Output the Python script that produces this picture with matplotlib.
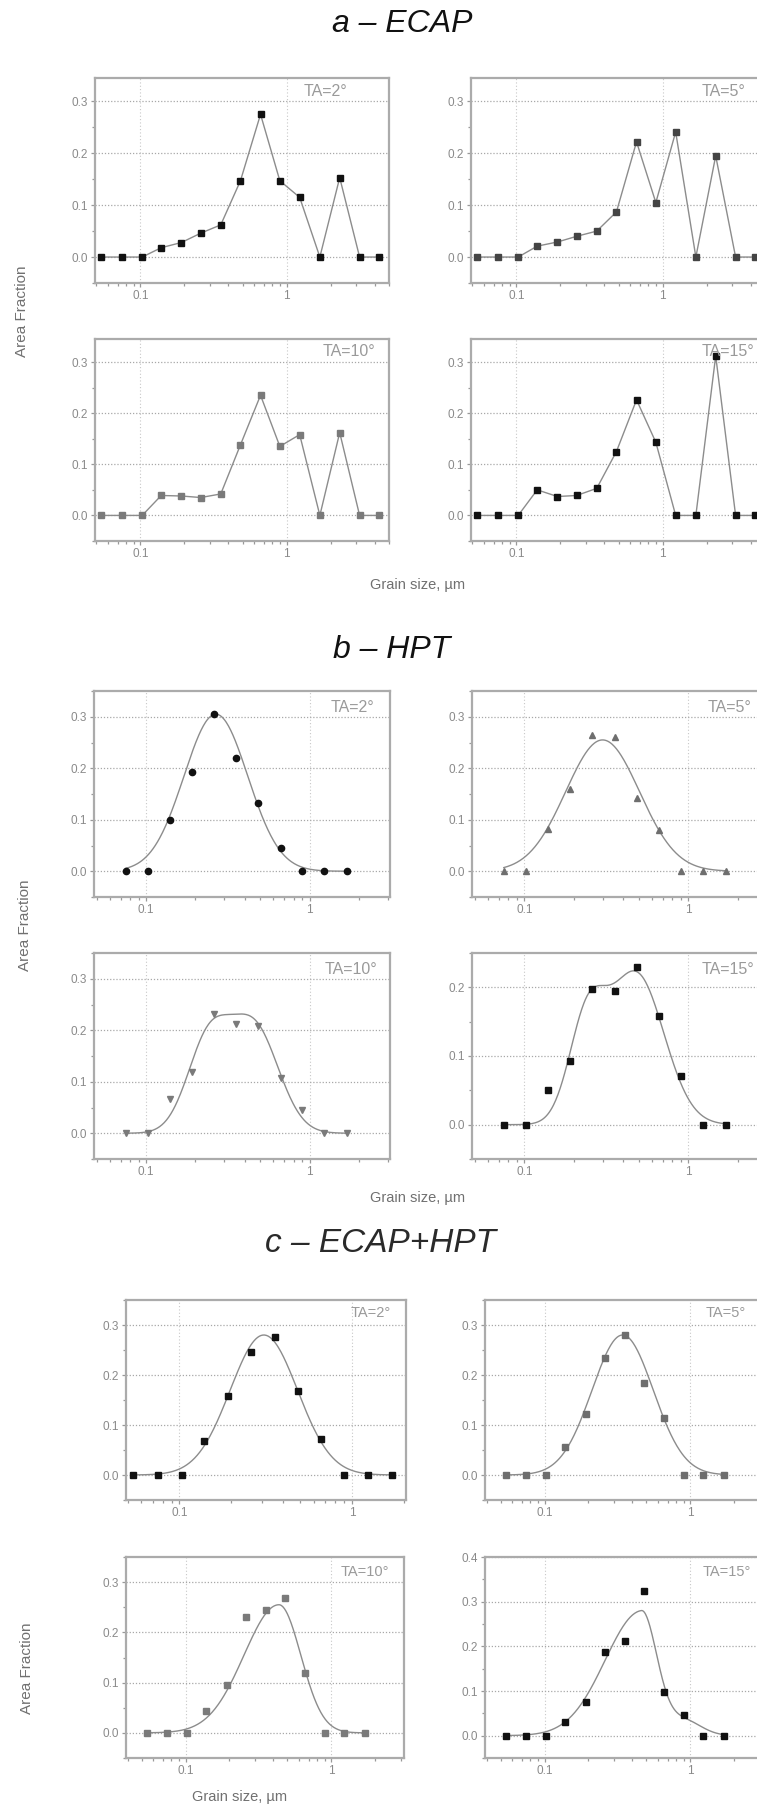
import numpy as np
import matplotlib
matplotlib.use("Agg")
import matplotlib.pyplot as plt
from matplotlib.ticker import FixedLocator, NullFormatter, LogLocator, MultipleLocator, FormatStrFormatter

plt.rcParams['font.family'] = ['Liberation Sans', 'DejaVu Sans']

W, H = 757, 1809

# grain size classes (um)
x_a = [0.054, 0.075, 0.103, 0.139, 0.191, 0.259, 0.355, 0.484, 0.664, 0.90, 1.23, 1.69, 2.31, 3.16, 4.31]
x_b = [0.075, 0.103, 0.139, 0.191, 0.259, 0.355, 0.484, 0.664, 0.90, 1.23, 1.69]
x_c = [0.054, 0.075, 0.103, 0.139, 0.191, 0.259, 0.355, 0.484, 0.664, 0.90, 1.23, 1.69]

# a - ECAP
a_ta2 = [0, 0, 0, 0.018, 0.028, 0.046, 0.062, 0.147, 0.275, 0.147, 0.115, 0, 0.153, 0, 0]
a_ta5 = [0, 0, 0, 0.021, 0.029, 0.040, 0.050, 0.087, 0.222, 0.105, 0.241, 0, 0.195, 0, 0]
a_ta10 = [0, 0, 0, 0.039, 0.038, 0.035, 0.042, 0.138, 0.235, 0.135, 0.158, 0, 0.162, 0, 0]
a_ta15 = [0, 0, 0, 0.050, 0.037, 0.039, 0.053, 0.125, 0.226, 0.143, 0, 0, 0.312, 0, 0]

# b - HPT
b_ta2 = [0, 0, 0.099, 0.192, 0.306, 0.219, 0.133, 0.045, 0, 0, 0]
b_ta5 = [0, 0, 0.083, 0.160, 0.264, 0.260, 0.142, 0.080, 0, 0, 0]
b_ta10 = [0, 0, 0.067, 0.119, 0.232, 0.213, 0.209, 0.108, 0.045, 0, 0]
b_ta15 = [0, 0, 0.051, 0.093, 0.197, 0.195, 0.229, 0.158, 0.071, 0, 0]

# c - ECAP+HPT
c_ta2 = [0, 0, 0, 0.068, 0.158, 0.247, 0.276, 0.168, 0.073, 0, 0, 0]
c_ta5 = [0, 0, 0, 0.057, 0.123, 0.234, 0.281, 0.185, 0.114, 0, 0, 0]
c_ta10 = [0, 0, 0, 0.043, 0.095, 0.230, 0.245, 0.268, 0.119, 0, 0, 0]
c_ta15 = [0, 0, 0, 0.031, 0.076, 0.187, 0.211, 0.323, 0.097, 0.047, 0, 0]

# fitted peaks: (height, centre um, sigma left, sigma right) in decades
fit_b2 = [(0.305, 0.267, 0.195, 0.195)]
fit_b5 = [(0.255, 0.30, 0.225, 0.225)]
fit_b10 = [(0.175, 0.24, 0.13, 0.13), (0.205, 0.457, 0.15, 0.15)]
fit_b15 = [(0.14, 0.24, 0.11, 0.11), (0.22, 0.479, 0.17, 0.17)]
fit_c2 = [(0.28, 0.308, 0.195, 0.195)]
fit_c5 = [(0.28, 0.343, 0.21, 0.21)]
fit_c10 = [(0.255, 0.437, 0.24, 0.15)]
fit_c15 = [(0.278, 0.462, 0.25, 0.105), (0.035, 0.89, 0.12, 0.12)]

fig = plt.figure(figsize=(W / 100, H / 100), dpi=100)
fig.patch.set_facecolor('white')

FRAME = '#ababab'
LINE = '#8c8c8c'


def fit_curve(x0, x1, peaks):
    lx = np.linspace(np.log10(x0), np.log10(x1), 300)
    y = np.zeros_like(lx)
    for h, c, sl, sr in peaks:
        d = lx - np.log10(c)
        s = np.where(d < 0, sl, sr)
        y += h * np.exp(-d ** 2 / (2 * s ** 2))
    return 10 ** lx, y


def panel(l, t, r, b, xlim, ylim, label, lab_x, lab_y, lab_fs=11.5, ytop=0.3):
    ax = fig.add_axes([l / W, 1 - b / H, (r - l) / W, (b - t) / H])
    ax.set_xscale('log')
    ax.set_xlim(*xlim)
    ax.set_ylim(*ylim)
    ax.xaxis.set_major_locator(FixedLocator([0.1, 1]))
    ax.set_xticklabels(['0.1', '1'])
    ax.xaxis.set_minor_locator(LogLocator(base=10, subs=np.arange(2, 10)))
    ax.xaxis.set_minor_formatter(NullFormatter())
    ax.yaxis.set_major_locator(FixedLocator(np.arange(0, ytop + 0.01, 0.1)))
    ax.yaxis.set_major_formatter(FormatStrFormatter('%.1f'))
    ax.yaxis.set_minor_locator(MultipleLocator(0.05))
    for s in ax.spines.values():
        s.set_color(FRAME)
        s.set_linewidth(1.6)
    ax.tick_params(which='both', direction='out', colors='#999999', labelcolor='#8a8a8a',
                   labelsize=8.5, width=0.9, pad=2)
    ax.tick_params(which='major', length=3)
    ax.tick_params(which='minor', length=2)
    ax.tick_params(top=False, right=False)
    ax.grid(True, axis='y', which='major', color='#a8a8a8', linestyle=(0, (1, 1.5)), linewidth=0.9)
    ax.grid(True, axis='x', which='major', color='#c8c8c8', linestyle=(0, (1, 2)), linewidth=0.8)
    ax.set_axisbelow(True)
    fig.text(lab_x / W, 1 - lab_y / H, label, ha='right', va='center',
             fontsize=lab_fs, color='#9a9a9a')
    return ax


def marks(ax, x, y, marker, color, ms=4.5):
    ax.plot(x, y, linestyle='none', marker=marker, ms=ms, color=color,
            mec=color, zorder=4)


# ---------- a - ECAP ----------
fig.text(402 / W, 1 - 24 / H, 'a \u2013 ECAP', ha='center', va='center',
         fontsize=23, style='italic', color='#111111')
xa = (0.049, 5.02)
ya = (-0.05, 0.345)
ax = panel(95, 78, 389, 283, xa, ya, 'TA=2\u00b0', 347, 91)
ax.plot(x_a, a_ta2, color=LINE, lw=1)
marks(ax, x_a, a_ta2, 's', '#111111')
ax = panel(471, 78, 765, 283, xa, ya, 'TA=5\u00b0', 745, 91)
ax.plot(x_a, a_ta5, color=LINE, lw=1)
marks(ax, x_a, a_ta5, 's', '#444444')
ax = panel(95, 339, 389, 541, xa, ya, 'TA=10\u00b0', 375, 352)
ax.plot(x_a, a_ta10, color=LINE, lw=1)
marks(ax, x_a, a_ta10, 's', '#7a7a7a')
ax = panel(471, 339, 765, 541, xa, ya, 'TA=15\u00b0', 754, 352)
ax.plot(x_a, a_ta15, color=LINE, lw=1)
marks(ax, x_a, a_ta15, 's', '#111111')
fig.text(22 / W, 1 - 311 / H, 'Area Fraction', rotation=90, ha='center', va='center',
         fontsize=11, color='#707070')
fig.text(418 / W, 1 - 585 / H, 'Grain size, \u00b5m', ha='center', va='center',
         fontsize=10.5, color='#707070')

# ---------- b - HPT ----------
fig.text(392 / W, 1 - 650 / H, 'b \u2013 HPT', ha='center', va='center',
         fontsize=23, style='italic', color='#111111')
xb = (0.048, 3.1)
yb = (-0.05, 0.35)
ax = panel(94, 691, 390, 897, xb, yb, 'TA=2\u00b0', 374, 708)
ax.plot(*fit_curve(x_b[0], x_b[-1], fit_b2), color=LINE, lw=1)
marks(ax, x_b, b_ta2, 'o', '#111111')
ax = panel(472, 691, 769, 897, xb, yb, 'TA=5\u00b0', 751, 708)
ax.plot(*fit_curve(x_b[0], x_b[-1], fit_b5), color=LINE, lw=1)
marks(ax, x_b, b_ta5, '^', '#6e6e6e', ms=5)
ax = panel(94, 953, 390, 1159, xb, yb, 'TA=10\u00b0', 377, 970)
ax.plot(*fit_curve(x_b[0], x_b[-1], fit_b10), color=LINE, lw=1)
marks(ax, x_b, b_ta10, 'v', '#7a7a7a', ms=5)
ax = panel(472, 953, 769, 1159, xb, (-0.05, 0.25), 'TA=15\u00b0', 754, 970, ytop=0.2)
ax.plot(*fit_curve(x_b[0], x_b[-1], fit_b15), color=LINE, lw=1)
marks(ax, x_b, b_ta15, 's', '#111111')
fig.text(25 / W, 1 - 925 / H, 'Area Fraction', rotation=90, ha='center', va='center',
         fontsize=11, color='#707070')
fig.text(418 / W, 1 - 1198 / H, 'Grain size, \u00b5m', ha='center', va='center',
         fontsize=10.5, color='#707070')

# ---------- c - ECAP+HPT ----------
fig.text(381 / W, 1 - 1244 / H, 'c \u2013 ECAP+HPT', ha='center', va='center',
         fontsize=24, style='italic', color='#2a2a2a')
yc = (-0.05, 0.35)
xc = (0.039, 3.15)
ax = panel(126, 1300, 406, 1500, (0.049, 2.05), yc, 'TA=2\u00b0', 391, 1313, lab_fs=10.5)
ax.plot(*fit_curve(x_c[0], x_c[-1], fit_c2), color=LINE, lw=1)
marks(ax, x_c, c_ta2, 's', '#111111', ms=4)
ax = panel(485, 1300, 763, 1500, xc, yc, 'TA=5\u00b0', 746, 1313, lab_fs=10.5)
ax.plot(*fit_curve(x_c[0], x_c[-1], fit_c5), color=LINE, lw=1)
marks(ax, x_c, c_ta5, 's', '#6e6e6e', ms=4)
ax = panel(126, 1557, 404, 1758, xc, yc, 'TA=10\u00b0', 389, 1572, lab_fs=10.5)
ax.plot(*fit_curve(x_c[0], x_c[-1], fit_c10), color=LINE, lw=1)
marks(ax, x_c, c_ta10, 's', '#7a7a7a', ms=4)
ax = panel(485, 1557, 763, 1758, xc, (-0.05, 0.4), 'TA=15\u00b0', 751, 1572, lab_fs=10.5, ytop=0.4)
ax.plot(*fit_curve(x_c[0], x_c[-1], fit_c15), color=LINE, lw=1)
marks(ax, x_c, c_ta15, 's', '#111111', ms=4)
fig.text(27 / W, 1 - 1668 / H, 'Area Fraction', rotation=90, ha='center', va='center',
         fontsize=11, color='#707070')
fig.text(240 / W, 1 - 1797 / H, 'Grain size, \u00b5m', ha='center', va='center',
         fontsize=10.5, color='#707070')

fig.savefig('out.png', dpi=100, facecolor='white')
